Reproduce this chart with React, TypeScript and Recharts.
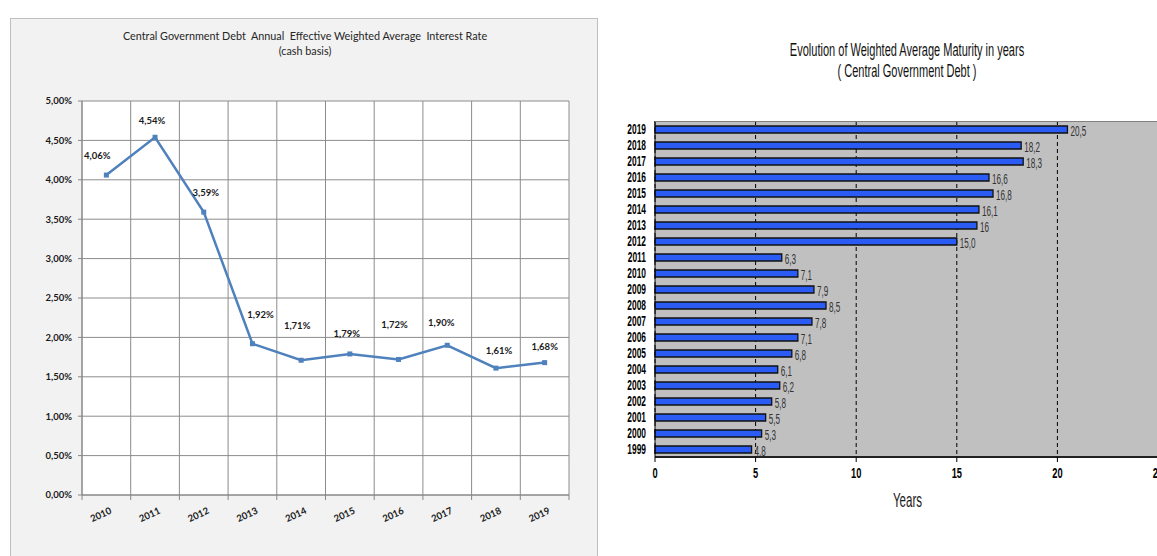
import React from 'react';
import {
  LineChart, Line, BarChart, Bar, XAxis, YAxis, CartesianGrid, LabelList,
} from 'recharts';

// left chart: effective weighted average interest rate (%)
const rateYears = ['2010', '2011', '2012', '2013', '2014', '2015', '2016', '2017', '2018', '2019'];
const rateValues = [4.06, 4.54, 3.59, 1.92, 1.71, 1.79, 1.72, 1.90, 1.61, 1.68];
const rateTicks = [0, 0.5, 1, 1.5, 2, 2.5, 3, 3.5, 4, 4.5, 5];
// label nudges, the way Excel placed them
const labelDx = [-9, -3, 2, 8, -4, -3, -4, -6, 3, 0];
const labelDy = [-19, -16, -19, -29, -34, -20, -34, -22, -17, -16];

// right chart: weighted average maturity in years
const maturityYears = ['1999', '2000', '2001', '2002', '2003', '2004', '2005', '2006', '2007', '2008',
  '2009', '2010', '2011', '2012', '2013', '2014', '2015', '2016', '2017', '2018', '2019'];
const maturityValues = [4.8, 5.3, 5.5, 5.8, 6.2, 6.1, 6.8, 7.1, 7.8, 8.5,
  7.9, 7.1, 6.3, 15.0, 16, 16.1, 16.8, 16.6, 18.3, 18.2, 20.5];
const maturityLabels = ['4,8', '5,3', '5,5', '5,8', '6,2', '6,1', '6,8', '7,1', '7,8', '8,5',
  '7,9', '7,1', '6,3', '15,0', '16', '16,1', '16,8', '16,6', '18,3', '18,2', '20,5'];
const yearTicks = [0, 5, 10, 15, 20, 25];

const fmtPct = (v: number) => v.toFixed(2).replace('.', ',') + '%';

const rateData = rateYears.map((year, i) => ({ year, pos: i + 0.5, rate: rateValues[i] }));
const boundaries = rateYears.map((_, i) => i).concat(rateYears.length);
const centers = rateYears.map((_, i) => i + 0.5);

const maturityData = maturityYears.map((year, i) => ({ year, value: maturityValues[i], label: maturityLabels[i] }));

const calibri = "Lato, 'Open Sans', sans-serif";
const arial = "'Liberation Sans', Arial, sans-serif";

const SquareDot = (props: any) => {
  const { cx, cy } = props;
  if (cx == null || cy == null) return null;
  return <rect x={cx - 2.5} y={cy - 2.5} width={5} height={5} fill="#4f81bd" />;
};

const RateLabel = (props: any) => {
  const { x, y, index, value } = props;
  return (
    <text x={x + labelDx[index]} y={y + labelDy[index]} dy={3} textAnchor="middle"
      fontFamily={calibri} fontSize={9.5} fontWeight={700} fill="#1a1a1a">
      {fmtPct(value)}
    </text>
  );
};

const YearTick = (props: any) => {
  const { x, y, payload } = props;
  const i = Math.round(payload.value - 0.5);
  return (
    <text transform={`translate(${x + 6},${y + 4}) rotate(-25)`} textAnchor="end"
      fontFamily={calibri} fontSize={9.5} fontWeight={700} fill="#1a1a1a">
      {rateYears[i]}
    </text>
  );
};

// the right chart is squeezed sideways in the source, so its text is too
const NarrowYTick = (props: any) => {
  const { x, y, payload } = props;
  return (
    <text transform={`translate(${x},${y}) scale(0.6,1)`} dy={5} textAnchor="end"
      fontFamily={arial} fontSize={14} fontWeight={700} fill="#000">
      {payload.value}
    </text>
  );
};

const NarrowXTick = (props: any) => {
  const { x, y, payload } = props;
  return (
    <text transform={`translate(${x},${y}) scale(0.62,1)`} dy={12} textAnchor="middle"
      fontFamily={arial} fontSize={15} fontWeight={700} fill="#000">
      {payload.value}
    </text>
  );
};

const BarValue = (props: any) => {
  const { x, y, width, height, value } = props;
  return (
    <text transform={`translate(${x + width + 3},${y + height / 2}) scale(0.58,1)`} dy={6}
      fontFamily={arial} fontSize={14} fill="#333">
      {value}
    </text>
  );
};

const App: React.FC = () => {
  return (
    <div style={{ position: 'fixed', left: 0, top: 0, width: 1157, height: 556, overflow: 'hidden', background: '#fff' }}>
      {/* left panel */}
      <div style={{
        position: 'absolute', left: 10, top: 18, width: 586, height: 560,
        background: '#f2f2f2', border: '1px solid #bfbfbf',
      }} />
      <div style={{
        position: 'absolute', left: 10, top: 28, width: 590, textAlign: 'center',
        fontFamily: calibri, fontSize: 10.8, color: '#262626', lineHeight: '15px',
      }}>
        <div style={{ whiteSpace: 'pre' }}>Central Government Debt  Annual  Effective Weighted Average  Interest Rate</div>
        <div>(cash basis)</div>
      </div>
      <div style={{ position: 'absolute', left: 0, top: 0, width: 600, height: 556 }}>
        <LineChart width={600} height={556} data={rateData}
          margin={{ top: 101, right: 31, bottom: 21, left: 22 }}>
          <CartesianGrid stroke="#8c8c8c" strokeWidth={1} fill="#fff" />
          <XAxis dataKey="pos" type="number" domain={[0, 10]} ticks={boundaries} interval={0}
            height={6} tickSize={5} tickFormatter={() => ''} stroke="#868686" axisLine={{ stroke: '#868686' }} />
          <XAxis xAxisId="lbl" dataKey="pos" type="number" domain={[0, 10]} ticks={centers} interval={0}
            height={34} axisLine={false} tickLine={false} tick={<YearTick />} />
          <YAxis type="number" domain={[0, 5]} ticks={rateTicks} interval={0} width={60}
            tickSize={4} tickMargin={6} stroke="#868686"
            tickFormatter={fmtPct}
            tick={{ fontFamily: calibri, fontSize: 9.5, fontWeight: 700, fill: '#1a1a1a' }} />
          <Line dataKey="rate" stroke="#4f81bd" strokeWidth={2.5} dot={<SquareDot />}
            activeDot={false} isAnimationActive={false}>
            <LabelList dataKey="rate" content={<RateLabel />} />
          </Line>
        </LineChart>
      </div>

      {/* right chart */}
      <div style={{
        position: 'absolute', left: 600, top: 40, width: 614, textAlign: 'center',
        fontFamily: arial, fontSize: 17.5, color: '#111', lineHeight: '21px',
        transform: 'scaleX(0.63)', transformOrigin: '307px 0',
      }}>
        <div>Evolution of Weighted Average Maturity in years</div>
        <div>( Central Government Debt )</div>
      </div>
      <div style={{ position: 'absolute', left: 600, top: 0, width: 600, height: 556 }}>
        <BarChart width={600} height={556} data={maturityData} layout="vertical"
          margin={{ top: 121, right: 42, bottom: 69, left: 25 }} barCategoryGap={0}>
          <CartesianGrid horizontal={false} stroke="#000" strokeDasharray="4 3" fill="#c0c0c0" />
          <XAxis type="number" domain={[0, 25]} ticks={yearTicks} interval={0} height={30}
            tickSize={5} tickMargin={4} stroke="#000" axisLine={{ stroke: '#222', strokeWidth: 2 }}
            tick={<NarrowXTick />} />
          <YAxis type="category" dataKey="year" reversed width={30} interval={0}
            tickLine={false} tickMargin={3} stroke="#000" tick={<NarrowYTick />} />
          <Bar dataKey="value" fill="#2a5cf5" stroke="#111" strokeWidth={1.3} barSize={7}
            isAnimationActive={false}>
            <LabelList dataKey="label" content={<BarValue />} />
          </Bar>
        </BarChart>
      </div>
      <div style={{ position: 'absolute', left: 655, top: 121, width: 510, height: 1, background: '#808080' }} />
      <div style={{
        position: 'absolute', left: 850, top: 488, width: 115, textAlign: 'center',
        fontFamily: arial, fontSize: 21, color: '#1a1a1a',
        transform: 'scaleX(0.55)',
      }}>Years</div>
    </div>
  );
};

export default App;
